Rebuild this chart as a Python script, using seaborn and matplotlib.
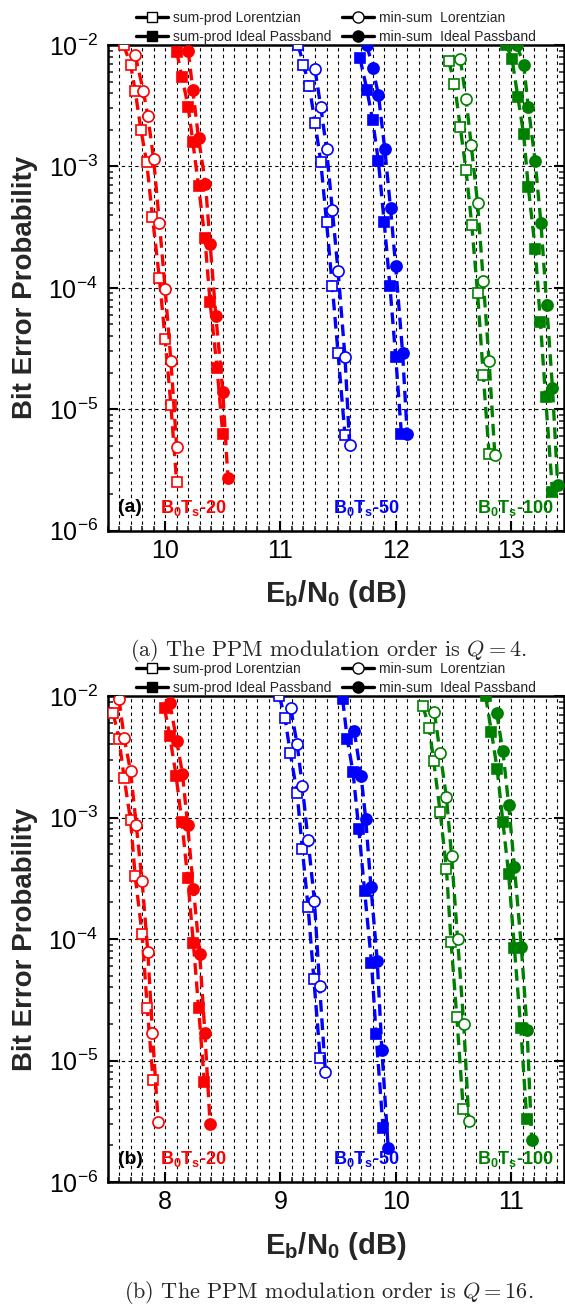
import matplotlib
matplotlib.use("Agg")
import matplotlib.pyplot as plt
from matplotlib.lines import Line2D
from matplotlib.ticker import MultipleLocator, LogLocator, NullFormatter
import seaborn as sns
import numpy as np

# ---------------- data: panel (a) Q = 4 ----------------
a_red_sp_lor_x = [9.64, 9.70, 9.74, 9.79, 9.84, 9.89, 9.95, 10.00, 10.05, 10.10]
a_red_sp_lor_y = [1.0e-2, 6.9e-3, 4.2e-3, 2.0e-3, 1.08e-3, 3.85e-4, 1.2e-4, 3.8e-5, 1.08e-5, 2.5e-6]
a_red_ms_lor_x = [9.74, 9.81, 9.85, 9.90, 9.95, 10.00, 10.05, 10.10]
a_red_ms_lor_y = [8.3e-3, 4.2e-3, 2.6e-3, 1.15e-3, 3.45e-4, 9.8e-5, 2.5e-5, 4.9e-6]
a_red_sp_id_x = [10.10, 10.145, 10.20, 10.24, 10.29, 10.345, 10.39, 10.45, 10.50]
a_red_sp_id_y = [8.8e-3, 5.5e-3, 3.1e-3, 1.6e-3, 6.9e-4, 2.55e-4, 7.6e-5, 2.2e-5, 6.2e-6]
a_red_ms_id_x = [10.20, 10.24, 10.29, 10.35, 10.39, 10.44, 10.50, 10.545]
a_red_ms_id_y = [9.0e-3, 4.25e-3, 1.7e-3, 7.2e-4, 2.3e-4, 5.9e-5, 1.4e-5, 2.7e-6]

a_blue_sp_lor_x = [11.154, 11.20, 11.25, 11.30, 11.35, 11.40, 11.45, 11.50, 11.56]
a_blue_sp_lor_y = [1.0e-2, 6.9e-3, 4.6e-3, 2.3e-3, 1.09e-3, 3.5e-4, 1.03e-4, 2.9e-5, 6.1e-6]
a_blue_ms_lor_x = [11.30, 11.35, 11.40, 11.45, 11.50, 11.56, 11.60]
a_blue_ms_lor_y = [6.3e-3, 3.1e-3, 1.4e-3, 4.4e-4, 1.38e-4, 2.7e-5, 5.1e-6]
a_blue_sp_id_x = [11.69, 11.75, 11.80, 11.85, 11.90, 11.95, 12.00, 12.05]
a_blue_sp_id_y = [7.8e-3, 4.3e-3, 2.4e-3, 1.1e-3, 3.5e-4, 1.03e-4, 2.7e-5, 6.2e-6]
a_blue_ms_id_x = [11.75, 11.80, 11.85, 11.905, 11.955, 12.00, 12.06, 12.10]
a_blue_ms_id_y = [1.0e-2, 6.5e-3, 3.9e-3, 1.4e-3, 4.55e-4, 1.5e-4, 2.9e-5, 6.2e-6]

a_green_sp_lor_x = [12.46, 12.51, 12.56, 12.61, 12.66, 12.71, 12.76, 12.81]
a_green_sp_lor_y = [7.4e-3, 4.8e-3, 2.1e-3, 9.3e-4, 3.3e-4, 9.1e-5, 1.9e-5, 4.3e-6]
a_green_ms_lor_x = [12.56, 12.61, 12.655, 12.71, 12.76, 12.81, 12.86]
a_green_ms_lor_y = [7.7e-3, 3.6e-3, 1.5e-3, 5.0e-4, 1.13e-4, 2.5e-5, 4.2e-6]
a_green_sp_id_x = [12.96, 13.01, 13.06, 13.11, 13.15, 13.21, 13.255, 13.30, 13.36]
a_green_sp_id_y = [1.0e-2, 7.6e-3, 3.7e-3, 1.84e-3, 6.8e-4, 2.1e-4, 5.25e-5, 1.26e-5, 2.1e-6]
a_green_ms_id_x = [13.05, 13.11, 13.15, 13.21, 13.26, 13.31, 13.36, 13.405]
a_green_ms_id_y = [1.0e-2, 6.9e-3, 3.1e-3, 1.1e-3, 3.4e-4, 7.2e-5, 1.5e-5, 2.4e-6]

# ---------------- data: panel (b) Q = 16 ----------------
b_red_sp_lor_x = [7.55, 7.60, 7.645, 7.70, 7.74, 7.80, 7.845, 7.895]
b_red_sp_lor_y = [7.2e-3, 4.4e-3, 2.1e-3, 9.5e-4, 3.3e-4, 1.1e-4, 2.7e-5, 6.9e-6]
b_red_ms_lor_x = [7.60, 7.645, 7.70, 7.75, 7.80, 7.85, 7.89, 7.94]
b_red_ms_lor_y = [9.4e-3, 4.5e-3, 2.4e-3, 8.6e-4, 3.0e-4, 7.8e-5, 1.67e-5, 3.1e-6]
b_red_sp_id_x = [7.995, 8.04, 8.095, 8.145, 8.195, 8.245, 8.29, 8.34]
b_red_sp_id_y = [7.9e-3, 4.7e-3, 2.2e-3, 9.2e-4, 3.2e-4, 9.2e-5, 2.7e-5, 6.7e-6]
b_red_ms_id_x = [8.04, 8.10, 8.15, 8.195, 8.245, 8.30, 8.345, 8.39]
b_red_ms_id_y = [8.8e-3, 4.3e-3, 2.3e-3, 8.7e-4, 2.6e-4, 7.5e-5, 1.67e-5, 3.0e-6]

b_blue_sp_lor_x = [8.99, 9.04, 9.085, 9.145, 9.19, 9.24, 9.29, 9.345]
b_blue_sp_lor_y = [1.0e-2, 6.6e-3, 3.4e-3, 1.58e-3, 5.5e-4, 1.84e-4, 4.7e-5, 1.05e-5]
b_blue_ms_lor_x = [9.09, 9.145, 9.19, 9.24, 9.295, 9.34, 9.39]
b_blue_ms_lor_y = [7.9e-3, 4.0e-3, 1.82e-3, 6.5e-4, 2.06e-4, 4.1e-5, 8.1e-6]
b_blue_sp_id_x = [9.54, 9.58, 9.63, 9.68, 9.73, 9.79, 9.83, 9.89]
b_blue_sp_id_y = [9.4e-3, 4.4e-3, 2.35e-3, 8.0e-4, 2.5e-4, 6.4e-5, 1.64e-5, 2.8e-6]
b_blue_ms_id_x = [9.64, 9.70, 9.74, 9.785, 9.84, 9.88, 9.935]
b_blue_ms_id_y = [5.2e-3, 2.2e-3, 9.7e-4, 2.7e-4, 6.6e-5, 1.23e-5, 1.9e-6]

b_green_sp_lor_x = [10.235, 10.29, 10.33, 10.385, 10.44, 10.48, 10.53, 10.586]
b_green_sp_lor_y = [8.3e-3, 5.5e-3, 2.9e-3, 1.12e-3, 3.8e-4, 9.5e-5, 2.3e-5, 4.0e-6]
b_green_ms_lor_x = [10.335, 10.385, 10.44, 10.485, 10.537, 10.59, 10.634]
b_green_ms_lor_y = [7.4e-3, 3.4e-3, 1.48e-3, 4.8e-4, 1.0e-4, 2.0e-5, 3.2e-6]
b_green_sp_id_x = [10.78, 10.83, 10.88, 10.93, 10.98, 11.03, 11.085, 11.137]
b_green_sp_id_y = [1.0e-2, 5.1e-3, 2.5e-3, 9.2e-4, 3.4e-4, 8.4e-5, 1.84e-5, 3.3e-6]
b_green_ms_id_x = [10.875, 10.93, 10.98, 11.03, 11.09, 11.14, 11.18]
b_green_ms_id_y = [7.3e-3, 3.5e-3, 1.27e-3, 3.9e-4, 8.6e-5, 1.78e-5, 2.2e-6]

legend_labels = ["sum-prod Lorentzian", "sum-prod Ideal Passband",
                 "min-sum  Lorentzian", "min-sum  Ideal Passband"]
group_labels = ["-20", "-50", "-100"]
panel_tags = ["(a)", "(b)"]
captions = ["(a) The PPM modulation order is $Q = 4$.",
            "(b) The PPM modulation order is $Q = 16$."]
x_major_a = [10, 11, 12, 13]
x_major_b = [8, 9, 10, 11]

# ---------------- style ----------------
sns.set_theme(style="white")
plt.rcParams["font.family"] = ["Liberation Sans", "DejaVu Sans"]
plt.rcParams["mathtext.fontset"] = "custom"
plt.rcParams["mathtext.rm"] = "Liberation Sans"
plt.rcParams["mathtext.it"] = "Liberation Sans:italic"
plt.rcParams["mathtext.bf"] = "Liberation Sans:bold"
plt.rcParams["axes.unicode_minus"] = False

RED, BLUE, GREEN = "#ff0000", "#0000ff", "#008000"
colors = [RED, BLUE, GREEN]

fig = plt.figure(figsize=(5.65, 13.09), dpi=100)
W, H = 565.0, 1309.0
ax_left, ax_right = 107.5, 564.0
ax_a = fig.add_axes([ax_left / W, 1 - 530.7 / H, (ax_right - ax_left) / W, 485.7 / H])
ax_b = fig.add_axes([ax_left / W, 1 - 1182.0 / H, (ax_right - ax_left) / W, 486.0 / H])

panels = [
    (ax_a, (9.5, 13.46), x_major_a,
     [[(a_red_sp_lor_x, a_red_sp_lor_y), (a_red_sp_id_x, a_red_sp_id_y),
       (a_red_ms_lor_x, a_red_ms_lor_y), (a_red_ms_id_x, a_red_ms_id_y)],
      [(a_blue_sp_lor_x, a_blue_sp_lor_y), (a_blue_sp_id_x, a_blue_sp_id_y),
       (a_blue_ms_lor_x, a_blue_ms_lor_y), (a_blue_ms_id_x, a_blue_ms_id_y)],
      [(a_green_sp_lor_x, a_green_sp_lor_y), (a_green_sp_id_x, a_green_sp_id_y),
       (a_green_ms_lor_x, a_green_ms_lor_y), (a_green_ms_id_x, a_green_ms_id_y)]]),
    (ax_b, (7.5, 11.46), x_major_b,
     [[(b_red_sp_lor_x, b_red_sp_lor_y), (b_red_sp_id_x, b_red_sp_id_y),
       (b_red_ms_lor_x, b_red_ms_lor_y), (b_red_ms_id_x, b_red_ms_id_y)],
      [(b_blue_sp_lor_x, b_blue_sp_lor_y), (b_blue_sp_id_x, b_blue_sp_id_y),
       (b_blue_ms_lor_x, b_blue_ms_lor_y), (b_blue_ms_id_x, b_blue_ms_id_y)],
      [(b_green_sp_lor_x, b_green_sp_lor_y), (b_green_sp_id_x, b_green_sp_id_y),
       (b_green_ms_lor_x, b_green_ms_lor_y), (b_green_ms_id_x, b_green_ms_id_y)]]),
]

# marker specs: (marker, filled, size)
mspecs = [("s", False, 7.0), ("s", True, 7.0), ("o", False, 8.0), ("o", True, 8.0)]
dash = (0, (3.5, 2.0))

for pi, (ax, xl, xmaj, groups) in enumerate(panels):
    ax.set_yscale("log")
    for gi, group in enumerate(groups):
        c = colors[gi]
        for si, (xs, ys) in enumerate(group):
            m, filled, ms = mspecs[si]
            sns.lineplot(x=xs, y=ys, ax=ax, color=c, sort=False, estimator=None,
                         errorbar=None, linewidth=2.4, linestyle=dash,
                         marker=m, markersize=ms,
                         markerfacecolor=c if filled else "white",
                         markeredgecolor=c, markeredgewidth=1.2, zorder=3)
    ax.set_xlim(*xl)
    ax.set_ylim(1e-6, 1e-2)
    ax.xaxis.set_major_locator(MultipleLocator(1))
    ax.xaxis.set_minor_locator(MultipleLocator(0.1))
    ax.set_xticks(xmaj)
    ax.set_xticklabels([str(v) for v in xmaj])
    ax.yaxis.set_major_locator(LogLocator(base=10, numticks=10))
    ax.yaxis.set_minor_locator(LogLocator(base=10, subs=np.arange(2, 10), numticks=20))
    ax.yaxis.set_minor_formatter(NullFormatter())
    ax.grid(True, which="major", axis="y", color="black", linestyle=(0, (3, 3)), linewidth=0.8)
    ax.grid(True, which="both", axis="x", color="black", linestyle=(0, (3, 3)), linewidth=0.8)
    ax.set_axisbelow(True)
    ax.tick_params(which="major", direction="in", length=7, width=1.5, labelsize=18,
                   left=True, right=True, bottom=True, top=False, pad=7, colors="black")
    ax.tick_params(which="minor", direction="in", length=3.5, width=1.2,
                   left=True, right=True, bottom=True, top=False)
    ax.tick_params(axis="x", which="major", pad=6)
    for sp in ax.spines.values():
        sp.set_visible(True)
        sp.set_color("black")
        sp.set_linewidth(1.8)
    ax.set_xlabel(r"E$_\mathbf{b}$/N$_\mathbf{0}$ (dB)", fontsize=21, fontweight="bold", labelpad=11)
    ax.set_ylabel("Bit Error Probability", fontsize=20, fontweight="bold", labelpad=8)
    ax.yaxis.set_label_coords(-0.152, 0.5)

    # annotations
    ax.text(0.023, 0.047, panel_tags[pi], transform=ax.transAxes, fontsize=14,
            fontweight="bold", color="black", va="center", ha="left")
    for gi, xpos in enumerate([0.115, 0.495, 0.81]):
        ax.text(xpos, 0.047, r"$\mathbf{B_0T_s}$" + group_labels[gi], transform=ax.transAxes,
                fontsize=13, fontweight="bold", color=colors[gi], va="center", ha="left")

    # legend
    handles = []
    for m, filled, ms in [mspecs[0], mspecs[1], mspecs[2], mspecs[3]]:
        handles.append(Line2D([], [], color="black", linewidth=2.4, marker=m,
                              markersize=ms, markerfacecolor="black" if filled else "white",
                              markeredgecolor="black", markeredgewidth=1.0))
    ax.legend(handles, legend_labels, ncol=2, loc="lower center", bbox_to_anchor=(0.5, 0.999),
              frameon=False, fontsize=10, handlelength=2.3, handletextpad=0.35,
              columnspacing=0.8, labelspacing=0.4, borderaxespad=0.0, borderpad=0.1)

for ci, ypix in enumerate([650, 1293]):
    fig.text(0.582, 1 - ypix / H, captions[ci], ha="center", va="center", fontsize=16,
             family="cmr10", math_fontfamily="cm")

fig.savefig("out.png", dpi=100)
